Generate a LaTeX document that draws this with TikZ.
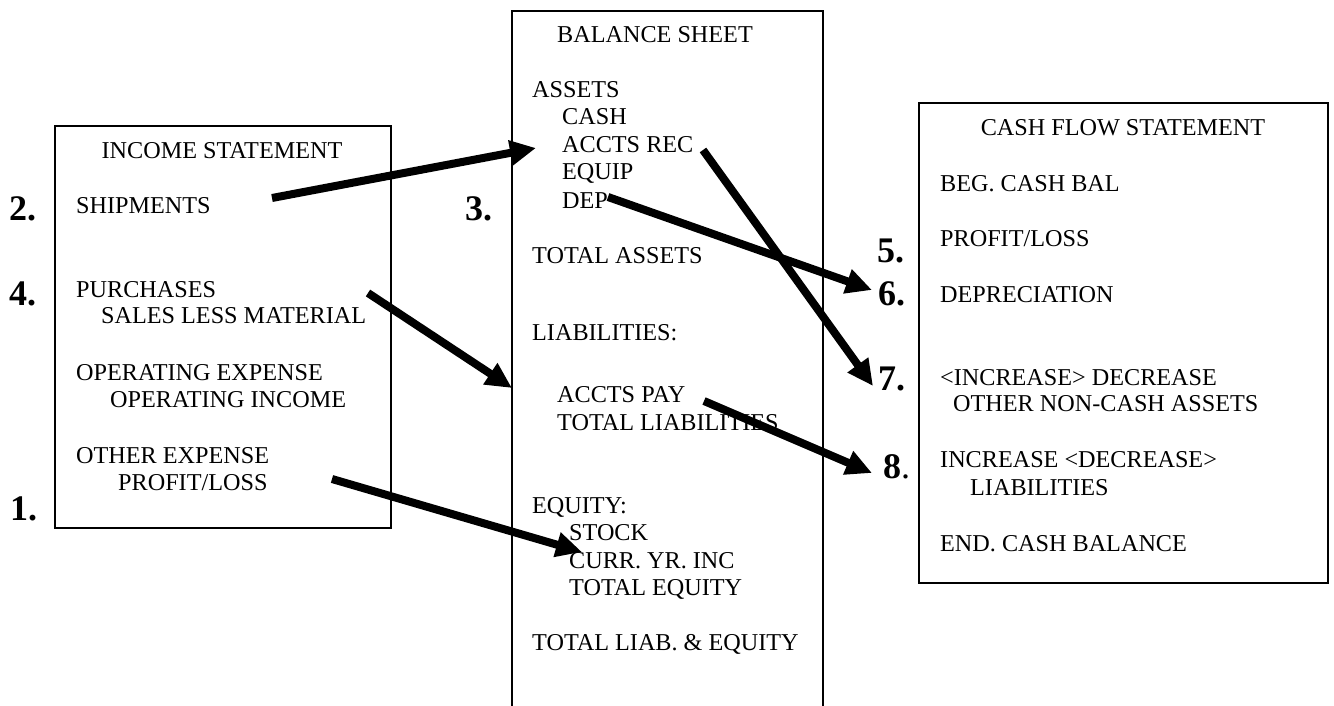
\documentclass[tikz,border=0pt]{standalone}
\usepackage{fontspec}
\setmainfont{Liberation Serif}
\usetikzlibrary{arrows.meta}
\begin{document}
\begin{tikzpicture}[x=1pt,y=-1pt,
  txt/.style={inner sep=0pt,anchor=base west,font=\fontsize{24.2}{27}\selectfont},
  head/.style={inner sep=0pt,anchor=base,font=\fontsize{24.2}{27}\selectfont},
  num/.style={inner sep=0pt,anchor=base west,font=\fontsize{36}{40}\selectfont\bfseries},
  frame/.style={draw=black,line width=1.5pt},
  bigarrow/.style={line width=8pt,-{Triangle[length=26pt,width=24pt]}}]
\useasboundingbox (0,0) rectangle (1334,706);
% boxes
\draw[frame] (55,126) rectangle (391,528);
\draw[frame] (512,706) -- (512,11) -- (823,11) -- (823,706);
\draw[frame] (919,103) rectangle (1328,583);
% income statement
\node[head] (ish) at (222,159) {INCOME STATEMENT};
\node[txt] (ship) at (76,214) {SHIPMENTS};
\node[txt] (purch) at (76,297) {PURCHASES};
\node[txt] (slm) at (101,323) {SALES LESS MATERIAL};
\node[txt] (opex) at (76,380) {OPERATING EXPENSE};
\node[txt] (opinc) at (110,407) {OPERATING INCOME};
\node[txt] (othex) at (76,463) {OTHER EXPENSE};
\node[txt] (pl) at (118,490) {PROFIT/LOSS};
% balance sheet
\node[txt] (bsh) at (557,43) {BALANCE SHEET};
\node[txt] (assets) at (532,98) {ASSETS};
\node[txt] (cash) at (562,125) {CASH};
\node[txt] (ar) at (562,153) {ACCTS REC};
\node[txt] (equip) at (562,180) {EQUIP};
\node[txt] (dep) at (562,208) {DEP};
\node[txt] (ta) at (532,263) {TOTAL ASSETS};
\node[txt] (liab) at (532,340) {LIABILITIES:};
\node[txt] (ap) at (557,402) {ACCTS PAY};
\node[txt] (tl) at (557,430) {TOTAL LIABILITIES};
\node[txt] (eq) at (532,513) {EQUITY:};
\node[txt] (stock) at (569,540) {STOCK};
\node[txt] (cyi) at (569,568) {CURR. YR. INC};
\node[txt] (te) at (569,595) {TOTAL EQUITY};
\node[txt] (tle) at (532,650) {TOTAL LIAB. \& EQUITY};
% cash flow
\node[head] (cfh) at (1123,136) {CASH FLOW STATEMENT};
\node[txt] (beg) at (940,191) {BEG. CASH BAL};
\node[txt] (cpl) at (940,246) {PROFIT/LOSS};
\node[txt] (depr) at (940,302) {DEPRECIATION};
\node[txt] (incdec) at (940,385) {<INCREASE> DECREASE};
\node[txt] (oth) at (953,411) {OTHER NON-CASH ASSETS};
\node[txt] (incdec2) at (940,467) {INCREASE <DECREASE>};
\node[txt] (cliab) at (970,495) {LIABILITIES};
\node[txt] (end) at (940,551) {END. CASH BALANCE};
% numbers
\node[num] (n2) at (9,220) {2.};
\node[num] (n4) at (9,305) {4.};
\node[num] (n1) at (10,520) {1.};
\node[num] (n3) at (465,220) {3.};
\node[num] (n5) at (877,262) {5.};
\node[num] (n6) at (878,305) {6.};
\node[num] (n7) at (878,390) {7.};
\node[num] (n8) at (883,478) {8\textmd{.}};
% arrow endpoints
\coordinate (s1) at (272,198);
\coordinate (e1) at (536,148);
\coordinate (s2) at (368,293);
\coordinate (e2) at (512,388);
\coordinate (s3) at (332,479);
\coordinate (e3) at (582,552);
\coordinate (s4) at (608,197);
\coordinate (e4) at (872,290);
\coordinate (s5) at (703,150);
\coordinate (e5) at (873,386);
\coordinate (s6) at (704,401);
\coordinate (e6) at (872,473);
\draw[bigarrow] (s1) -- (e1);
\draw[bigarrow] (s2) -- (e2);
\draw[bigarrow] (s3) -- (e3);
\draw[bigarrow] (s4) -- (e4);
\draw[bigarrow] (s5) -- (e5);
\draw[bigarrow] (s6) -- (e6);
\end{tikzpicture}
\end{document}
